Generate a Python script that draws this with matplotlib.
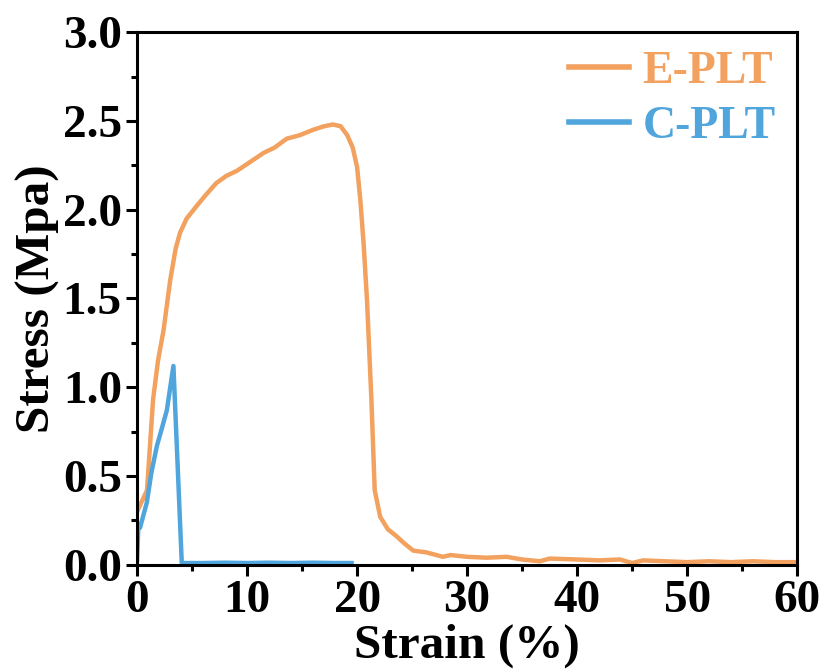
import matplotlib
matplotlib.use("Agg")
import matplotlib.pyplot as plt
from matplotlib.ticker import MultipleLocator

plt.rcParams["font.family"] = ["Liberation Serif", "DejaVu Serif"]
plt.rcParams["font.weight"] = "bold"

# E-PLT stress-strain curve
e_strain = [0.0, 0.3, 0.9, 1.45, 1.9, 2.4, 3.0, 3.5, 3.9, 4.5, 5.4, 6.2, 7.2, 8.1, 9.1,
            10.3, 11.5, 12.5, 13.6, 14.8, 16.0, 17.0, 17.8, 18.5, 19.1, 19.6, 20.0,
            20.3, 20.6, 20.9, 21.3, 21.6, 22.1, 22.8, 23.6, 24.3, 25.1, 26.3, 27.8,
            28.5, 30.0, 31.8, 33.6, 35.0, 36.6, 37.5, 40.0, 42.0, 43.9, 45.0, 46.0,
            48.0, 50.0, 52.0, 54.0, 56.0, 58.0, 60.0]
e_stress = [0.30, 0.34, 0.42, 0.93, 1.15, 1.32, 1.60, 1.78, 1.87, 1.95, 2.02, 2.08, 2.15,
            2.19, 2.22, 2.27, 2.32, 2.35, 2.40, 2.42, 2.45, 2.47, 2.48, 2.47, 2.42,
            2.35, 2.24, 2.05, 1.80, 1.49, 0.93, 0.42, 0.27, 0.20, 0.16, 0.12, 0.08,
            0.07, 0.045, 0.055, 0.045, 0.04, 0.045, 0.03, 0.02, 0.035, 0.03, 0.025,
            0.03, 0.01, 0.025, 0.02, 0.015, 0.02, 0.015, 0.02, 0.015, 0.015]

# C-PLT stress-strain curve
c_strain = [0.0, 0.1, 0.27, 0.88, 1.3, 1.8, 2.3, 2.7, 3.3, 4.06, 6.0, 8.0, 10.0, 12.0,
            14.0, 16.0, 18.0, 19.5]
c_stress = [0.03, 0.20, 0.21, 0.35, 0.52, 0.67, 0.78, 0.87, 1.12, 0.01, 0.01, 0.012,
            0.01, 0.012, 0.01, 0.012, 0.01, 0.01]

orange = "#F2A15F"
blue = "#4FA5DC"

fig = plt.figure(figsize=(8.26, 6.70), dpi=100)
ax = fig.add_axes([0.166, 0.157, 0.799, 0.795])

ax.plot(e_strain, e_stress, color=orange, lw=3.2, label="E-PLT")
ax.plot(c_strain, c_stress, color=blue, lw=3.2, label="C-PLT")

ax.set_xlim(0, 60)
ax.set_ylim(0, 3.0)
ax.xaxis.set_major_locator(MultipleLocator(10))
ax.xaxis.set_minor_locator(MultipleLocator(5))
ax.yaxis.set_major_locator(MultipleLocator(0.5))
ax.yaxis.set_minor_locator(MultipleLocator(0.25))
ax.yaxis.set_major_formatter(plt.FormatStrFormatter("%.1f"))

for s in ax.spines.values():
    s.set_linewidth(2.2)
ax.tick_params(which="major", direction="out", length=8, width=2.2, labelsize=34, pad=3)
ax.tick_params(which="minor", direction="out", length=4, width=2.2)

ax.set_xlabel("Strain (%)", fontsize=35.5, fontweight="bold", labelpad=1)
ax.set_ylabel("Stress (Mpa)", fontsize=35.5, fontweight="bold", labelpad=2)

leg = ax.legend(loc="upper right", frameon=False, fontsize=33, handlelength=1.3,
                handletextpad=0.3, labelspacing=0.3, borderaxespad=0.0,
                bbox_to_anchor=(0.995, 1.0))
for txt, ln in zip(leg.get_texts(), leg.get_lines()):
    txt.set_color(ln.get_color())
    txt.set_fontweight("bold")
    ln.set_linewidth(4)

fig.savefig("out.png", dpi=100)
